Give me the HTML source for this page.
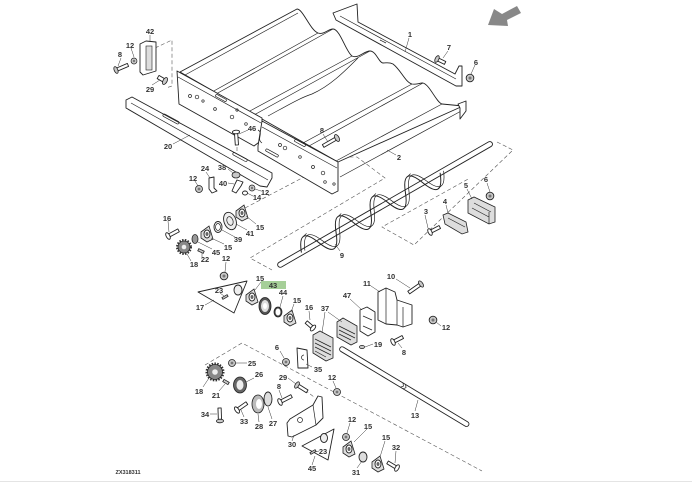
<!DOCTYPE html>
<html><head><meta charset="utf-8">
<style>
html,body{margin:0;padding:0;background:#fff}
svg{display:block}
.s{stroke:#222;stroke-width:.9;fill:#fff;stroke-linejoin:round}
.g{stroke:#222;stroke-width:.8;fill:#c8c8c8}
.k{stroke:#222;stroke-width:.8;fill:#6a6a6a}
.n{stroke:#222;stroke-width:.7;fill:none}
.l{stroke:#333;stroke-width:.5;fill:none}
.d{stroke:#555;stroke-width:.6;fill:none;stroke-dasharray:4 2.5}
text{font-family:"Liberation Sans",sans-serif;font-weight:bold;font-size:7.5px;fill:#333;text-anchor:middle}
</style></head><body>
<svg width="692" height="482" viewBox="0 0 692 482" xmlns="http://www.w3.org/2000/svg">
<defs>
<g id="fl"><path class="g" style="fill:#ddd" d="M-6,-2 L2,-8 L6,5 L0,8 L-6,4 Z"/><ellipse class="s" cx="0" cy="0" rx="3" ry="4"/><ellipse cx="0" cy="0" rx="1.5" ry="2" fill="#666"/></g>
<g id="nut"><circle class="g" r="3.5" fill="#bbb"/><circle r="1.4" fill="#777"/></g>
</defs>

<!-- direction arrow -->
<polygon points="488,25 494,9 502,14 517,6 521,13 507,20 508,26" fill="#888"/>

<!-- dashed lines -->
<path class="d" d="M155,48 L172,40 L172,86 L166,88"/>
<path class="d" d="M237,147 L237,172"/>
<path class="d" d="M245,208 L342,157 L357,157 L385,178 L250,258 L272,270"/>
<path class="d" d="M497,142 L513,150 L414,245 L382,227 L470,178"/>
<path class="d" d="M205,365 L242,343 L482,471"/>
<path class="d" d="M305,390 L314,397"/>

<!-- rail 20 -->
<path class="s" d="M126,100 L132,97 L272,173 L272,178 L267,187 L260,186 L126,108 Z"/>
<path class="n" d="M131,103 L268,180"/>
<rect class="n" x="160" y="-1.3" width="17" height="2.6" rx="1.3" transform="rotate(28.5 0 0) translate(0,0)" style="display:none"/>
<g transform="translate(171,119) rotate(28.5)"><rect class="n" x="-9" y="-1.4" width="18" height="2.8" rx="1.4"/></g>
<g transform="translate(240,157) rotate(28.5)"><rect class="n" x="-8" y="-1.4" width="16" height="2.8" rx="1.4"/></g>

<!-- trough 2 -->
<path class="s" d="M180,72 L297,9 C303,9 310,30 318,33 C324,35 328,29 333,29 C340,29 346,52 352,56 C358,59 364,51 370,51 C376,51 379,63 383,63 C387,63 389,62 393,64 C401,70 405,82 412,84 C416,85 419,83 423,83 C430,85 436,102 442,104 L463,106 L338,162 L262,119 Z"/>
<path class="n" d="M185,75 L298,13"/>
<path class="n" d="M216,94 L333,29 M212,92 L318,33 M248,112 L352,56 M254,115 L370,51 M303,143 L412,84 M309,146 L423,83 M336,161 L442,104"/>
<path class="n" d="M268,116 C290,104 300,98 312,94 C330,86 344,72 358,58"/>
<path class="n" d="M340,177 L463,110"/>
<path class="s" d="M458,104 L466,101 L466,111 L460,119 L460,108 Z"/>
<path class="s" d="M177,71 L262,118 L262,140 L254,146 L179,104 Z"/>
<path class="n" d="M178,77 L261,123"/>
<path class="s" d="M262,121 L338,162 L338,191 L332,194 L258,151 L258,146 Z"/>
<path class="n" d="M262,127 L337,168 M258,130 C264,133 256,139 262,143"/>
<g class="n">
<circle cx="190" cy="96" r="1.5"/><circle cx="197" cy="97" r="1.8"/><circle cx="203" cy="101" r="1.2"/><circle cx="215" cy="109" r="1.4"/><circle cx="232" cy="117" r="1.8"/><circle cx="237" cy="110" r="1.2"/><circle cx="246" cy="124" r="1.3"/>
<circle cx="280" cy="145" r="1.5"/><circle cx="285" cy="148" r="1.8"/><circle cx="300" cy="157" r="1.3"/><circle cx="313" cy="167" r="1.5"/><circle cx="323" cy="173" r="1.8"/><circle cx="325" cy="182" r="1.3"/><circle cx="334" cy="184" r="1.2"/>
</g>
<g transform="translate(221,98) rotate(29)"><rect class="n" x="-6" y="-1.2" width="12" height="2.4" rx="1"/></g>
<g transform="translate(300,143) rotate(29)"><rect class="n" x="-6" y="-1.2" width="12" height="2.4" rx="1"/></g>
<g transform="translate(272,153) rotate(29)"><rect class="n" x="-7" y="-1.2" width="14" height="2.4" rx="1"/></g>

<!-- bracket 1 -->
<path class="s" d="M333,13 L357,4 L358,22 L455,74 L459,66 L462,66 L462,86 L456,86 L336,20 Z"/>
<path class="n" d="M340,16 L456,79 M380,40 L386,43"/>

<!-- bracket 42 -->
<path class="s" d="M140,44 L146,41 L156,42 L156,71 L143,75 L140,72 Z"/>
<rect x="146" y="46" width="6" height="24" fill="#ddd" stroke="#222" stroke-width=".6"/>

<!-- auger 9 -->
<g transform="translate(278,266) rotate(-29.9)">
<rect class="s" x="0" y="-2.6" width="247" height="5.2" rx="2.6"/>
<path class="n" style="stroke-width:1" d="M27,0 q10,-26 20,0 q10,26 20,0 q10,-26 20,0 q10,26 20,0 q10,-26 20,0 q10,26 20,0 q10,-26 20,0 q10,26 20,0"/>
<path class="n" d="M31,0 q10,-24 20,0 q10,24 20,0 q10,-24 20,0 q10,24 20,0 q10,-24 20,0 q10,24 20,0 q10,-24 20,0 q10,24 20,0"/>
<path class="n" d="M37,-13 l4,-1 M77,-13 l4,-1 M117,-13 l4,-1 M157,-13 l4,-1 M57,13 l4,-1 M97,13 l4,-1 M137,13 l4,-1 M177,13 l4,-1"/>
</g>

<!-- shaft 13 -->
<g transform="translate(340,348) rotate(31)">
<rect class="s" x="0" y="-2.5" width="150" height="5" rx="2.5"/>
<path class="n" d="M72,-2.5 l2,2.5 l-2,2.5 M75,-2.5 l2,2.5 l-2,2.5"/>
</g>

<!-- bolts -->
<g transform="translate(116,70) rotate(-23)"><path class="s" d="M1,-1.6 H13 V1.6 H1 Z"/><ellipse class="g" rx="1.8" ry="3.6"/></g>
<g transform="translate(165,81) rotate(210)"><path class="s" d="M1,-1.8 H8 V1.8 H1 Z"/><ellipse class="g" rx="2" ry="3.8"/></g>
<g transform="translate(236,132) rotate(86)"><path class="s" d="M1,-1.6 H13 V1.6 H1 Z"/><ellipse class="s" rx="1.8" ry="3.6"/></g>
<g transform="translate(337,138) rotate(150)"><path class="s" d="M1,-1.6 H16 V1.6 H1 Z"/><ellipse class="g" rx="2" ry="3.8"/></g>
<g transform="translate(437,59) rotate(26)"><path class="s" d="M1,-1.6 H9 V1.6 H1 Z"/><ellipse class="g" rx="1.8" ry="3.6"/></g>
<g transform="translate(430,232) rotate(-27)"><path class="s" d="M1,-1.6 H11 V1.6 H1 Z"/><ellipse class="s" rx="1.8" ry="3.6"/></g>
<g transform="translate(168,236) rotate(-28)"><path class="s" d="M1,-1.6 H12 V1.6 H1 Z"/><ellipse class="s" rx="1.8" ry="3.6"/></g>
<g transform="translate(313,328) rotate(221)"><path class="s" d="M1,-1.6 H9 V1.6 H1 Z"/><ellipse class="s" rx="1.8" ry="3.6"/></g>
<g transform="translate(421,284) rotate(145)"><path class="s" d="M1,-1.6 H15 V1.6 H1 Z"/><ellipse class="g" rx="1.8" ry="3.6"/></g>
<g transform="translate(393,342) rotate(-27)"><path class="s" d="M1,-1.6 H11 V1.6 H1 Z"/><ellipse class="s" rx="1.8" ry="3.6"/></g>
<g transform="translate(297,385) rotate(32)"><path class="s" d="M1,-1.6 H12 V1.6 H1 Z"/><ellipse class="g" rx="1.8" ry="3.6"/></g>
<g transform="translate(280,402) rotate(-27)"><path class="s" d="M1,-1.6 H13 V1.6 H1 Z"/><ellipse class="s" rx="1.8" ry="3.6"/></g>
<g transform="translate(220,421) rotate(-92)"><path class="s" d="M1,-1.6 H13 V1.6 H1 Z"/><ellipse class="g" rx="1.8" ry="3.6"/></g>
<g transform="translate(237,410) rotate(-35)"><path class="s" d="M1,-1.6 H12 V1.6 H1 Z"/><ellipse class="s" rx="1.8" ry="3.6"/></g>
<g transform="translate(397,468) rotate(211)"><path class="s" d="M1,-1.6 H11 V1.6 H1 Z"/><ellipse class="s" rx="1.8" ry="3.6"/></g>

<!-- nuts -->
<use href="#nut" transform="translate(134,61) scale(.85)"/>
<use href="#nut" transform="translate(470,78) scale(1.1)"/>
<use href="#nut" transform="translate(490,196) scale(1.1)"/>
<use href="#nut" transform="translate(199,189)"/>
<use href="#nut" transform="translate(252,188) scale(.85)"/>
<use href="#nut" transform="translate(224,276) scale(1.1)"/>
<use href="#nut" transform="translate(433,320) scale(1.1)"/>
<use href="#nut" transform="translate(286,362)"/>
<use href="#nut" transform="translate(337,392)"/>
<use href="#nut" transform="translate(232,363)"/>
<use href="#nut" transform="translate(346,437)"/>

<!-- parts 3-6 -->
<path class="g" style="fill:#ddd" d="M443,215 L448,213 L466,222 L468,232 L462,234 L445,224 Z"/>
<path class="n" d="M448,218 L465,227"/>
<path class="g" style="fill:#ddd" d="M468,200 L474,197 L495,207 L495,222 L489,224 L468,213 Z"/>
<path class="n" d="M474,203 L491,212 M472,208 L489,217 M489,212 L489,224"/>

<!-- small parts upper left group -->
<path class="s" d="M209,178 L214,177 L214,188 L217,191 L212,193 L209,189 Z"/>
<ellipse class="g" cx="236" cy="175" rx="4" ry="3"/>
<path class="s" d="M237,180 L243,182 L241,186 L236,193 L232,191 L235,184 Z"/>
<ellipse class="s" cx="245" cy="193" rx="2.5" ry="2"/>
<use href="#fl" transform="translate(242,213)"/>
<ellipse class="s" cx="230" cy="221" rx="6" ry="9" transform="rotate(-20 230 221)" style="fill:#eee"/>
<ellipse class="n" cx="230" cy="221" rx="3" ry="4.5" transform="rotate(-20 230 221)"/>
<ellipse class="s" cx="218" cy="227" rx="4" ry="5.5"/>
<ellipse class="n" cx="218" cy="227" rx="2.5" ry="3.5"/>
<use href="#fl" transform="translate(207,234)"/>
<ellipse class="k" cx="195" cy="239" rx="3" ry="4.5" style="fill:#999"/>
<circle cx="184" cy="247" r="7" fill="none" stroke="#333" stroke-width="2" stroke-dasharray="1.5 1.3"/>
<circle class="k" cx="184" cy="247" r="6" style="fill:#888"/>
<circle cx="184" cy="247" r="2.3" fill="#eee"/>
<g transform="translate(201,251) rotate(25)"><rect class="g" x="-3" y="-1.2" width="6" height="2.4"/></g>

<!-- plate 17 group -->
<path class="s" d="M198,292 L247,281 L234,313 Z"/>
<ellipse class="s" cx="238" cy="290" rx="4" ry="5" style="fill:#eee"/>
<g transform="translate(225,297) rotate(-30)"><rect class="g" x="-3" y="-1" width="6" height="2"/></g>
<use href="#fl" transform="translate(252,297)"/>
<ellipse class="k" cx="265" cy="306" rx="6" ry="8.5" style="fill:#555"/>
<ellipse cx="265" cy="306" rx="4" ry="6" fill="#ddd"/>
<ellipse cx="265" cy="306" rx="2" ry="3" fill="#fff"/>
<ellipse class="k" cx="278" cy="312" rx="4" ry="5" style="fill:#444"/>
<ellipse cx="278" cy="312" rx="2.5" ry="3.5" fill="#fff"/>
<use href="#fl" transform="translate(290,318)"/>

<!-- pads 37, plate 47, bracket 11 -->
<path class="g" style="fill:#ddd" d="M337,322 L343,318 L357,326 L357,342 L351,345 L337,337 Z"/>
<path class="n" d="M339,326 L355,334 M339,330 L355,338 M339,334 L351,340"/>
<path class="g" style="fill:#ddd" d="M313,335 L320,331 L333,338 L333,358 L326,361 L313,353 Z"/>
<path class="n" d="M315,339 L331,347 M315,343 L331,351 M315,347 L331,355 M315,351 L326,357"/>
<path class="s" d="M360,310 L367,307 L375,312 L375,332 L368,336 L360,331 Z"/>
<path class="n" d="M363,316 L372,320 M363,326 L372,330"/>
<path class="s" d="M378,292 L386,288 L395,292 L397,300 L412,305 L412,324 L403,327 L397,325 L386,324 L378,320 Z"/>
<path class="n" d="M386,288 L386,324 M397,300 L397,325 M403,307 L403,327"/>
<ellipse class="g" cx="362" cy="347" rx="2.5" ry="1.6"/>

<!-- plate 35 -->
<path class="s" d="M297,348 L307,350 L308,368 L298,368 Z"/>
<path class="n" d="M304,355 a2.5,2.5 0 1 0 0,5"/>

<!-- lower-left group -->
<circle cx="215" cy="372" r="8.5" fill="none" stroke="#333" stroke-width="2" stroke-dasharray="1.5 1.3"/>
<circle class="k" cx="215" cy="372" r="7.5" style="fill:#888"/>
<circle cx="215" cy="372" r="2.8" fill="#eee"/>
<g transform="translate(226,382) rotate(30)"><rect class="g" x="-3" y="-1.3" width="6" height="2.6"/></g>
<ellipse class="k" cx="240" cy="385" rx="6.5" ry="8" style="fill:#666"/>
<ellipse cx="240" cy="385" rx="3.5" ry="5" fill="#eee"/>
<ellipse class="g" cx="258" cy="404" rx="6" ry="9" style="fill:#bbb"/>
<ellipse cx="259" cy="404" rx="3" ry="5" fill="#fff"/>
<ellipse class="s" cx="268" cy="399" rx="4" ry="7" style="fill:#ddd"/>

<!-- bracket 30 -->
<path class="s" d="M287,423 L290,419 L313,405 L318,396 L322,397 L323,418 L316,425 L292,437 L288,436 Z"/>
<path class="n" d="M313,405 L316,425"/>
<circle class="n" cx="300" cy="420" r="2.5"/>

<!-- plate 45 lower -->
<path class="s" d="M302,446 L334,429 L328,460 Z"/>
<ellipse class="s" cx="324" cy="438" rx="3.5" ry="4.5" style="fill:#eee"/>
<g transform="translate(313,452) rotate(-30)"><rect class="g" x="-3" y="-1" width="6" height="2"/></g>
<use href="#fl" transform="translate(349,449)"/>
<ellipse class="s" cx="363" cy="457" rx="4" ry="5" style="fill:#ddd"/>
<use href="#fl" transform="translate(378,464)"/>

<!-- leaders -->
<path class="l" d="M150,35 L150,42 M131,48 L134,57 M121,58 L118,66 M152,85 L160,80 M173,144 L190,135 M248,130 L239,134 M323,134 L328,142 M409,38 L405,52 M448,51 L443,58 M475,65 L471,74 M396,155 L387,150
M206,172 L210,178 M228,169 L233,173 M195,181 L198,186 M228,183 L234,184 M261,191 L255,189 M253,196 L247,193
M168,221 L169,232 M256,224 L246,216 M247,230 L236,224 M235,237 L222,230 M224,244 L211,238 M212,249 L198,242 M202,257 L202,253 M191,261 L187,254 M226,262 L225,272
M340,251 L335,244 M261,282 L255,290 M283,296 L280,307 M220,293 L224,296 M205,305 L214,300 M294,304 L291,312 M309,311 L310,320 M325,312 L322,333 M328,312 L342,322 M350,299 L362,310 M371,286 L380,292 M396,279 L410,288 M441,326 L436,322 M373,344 L365,347 M402,348 L398,343
M280,351 L284,358 M312,367 L306,364 M288,378 L296,384 M333,381 L336,388 M279,390 L282,398 M415,411 L418,400
M247,363 L236,363 M254,378 L246,382 M203,387 L209,378 M219,391 L225,384 M210,414 L217,414 M244,417 L241,410 M259,422 L258,414 M272,419 L268,407 M292,441 L294,435
M350,423 L347,433 M367,429 L354,442 M319,451 L315,452 M385,441 L380,457 M396,451 L395,463 M312,465 L315,456 M357,468 L362,461
M425,215 L428,228 M446,205 L448,213 M467,189 L472,199 M487,183 L490,192"/>

<!-- label 43 highlight -->
<rect x="261" y="281" width="25" height="8" fill="#a6cf98"/>

<!-- labels -->
<text x="150" y="34">42</text><text x="130" y="48">12</text><text x="120" y="57">8</text><text x="150" y="92">29</text>
<text x="168" y="149">20</text><text x="252" y="131">46</text><text x="322" y="133">8</text><text x="410" y="37">1</text>
<text x="449" y="50">7</text><text x="476" y="65">6</text><text x="399" y="160">2</text>
<text x="205" y="171">24</text><text x="222" y="170">38</text><text x="193" y="181">12</text><text x="223" y="186">40</text>
<text x="265" y="195">12</text><text x="257" y="200">14</text><text x="167" y="221">16</text><text x="260" y="230">15</text>
<text x="250" y="236">41</text><text x="238" y="242">39</text><text x="228" y="250">15</text><text x="216" y="255">45</text>
<text x="205" y="262">22</text><text x="194" y="267">18</text><text x="226" y="261">12</text><text x="342" y="258">9</text>
<text x="260" y="281">15</text><text x="273" y="288">43</text><text x="283" y="295">44</text><text x="219" y="293">23</text>
<text x="200" y="310">17</text><text x="297" y="303">15</text><text x="309" y="310">16</text><text x="325" y="311">37</text>
<text x="347" y="298">47</text><text x="367" y="286">11</text><text x="391" y="279">10</text><text x="446" y="330">12</text>
<text x="378" y="347">19</text><text x="404" y="355">8</text><text x="277" y="350">6</text><text x="318" y="372">35</text>
<text x="283" y="380">29</text><text x="332" y="380">12</text><text x="279" y="389">8</text><text x="415" y="418">13</text>
<text x="252" y="366">25</text><text x="259" y="377">26</text><text x="199" y="394">18</text><text x="216" y="398">21</text>
<text x="205" y="417">34</text><text x="244" y="424">33</text><text x="259" y="429">28</text><text x="273" y="426">27</text>
<text x="292" y="447">30</text><text x="352" y="422">12</text><text x="368" y="429">15</text><text x="323" y="454">23</text>
<text x="386" y="440">15</text><text x="396" y="450">32</text><text x="312" y="471">45</text><text x="356" y="475">31</text>
<text x="426" y="214">3</text><text x="445" y="204">4</text><text x="466" y="188">5</text><text x="486" y="182">6</text>
<text x="128" y="474" style="font-size:5.5px">ZX318311</text>

<line x1="0" y1="481.5" x2="692" y2="481.5" stroke="#e4e4e4" stroke-width="1"/>
</svg>
</body></html>
